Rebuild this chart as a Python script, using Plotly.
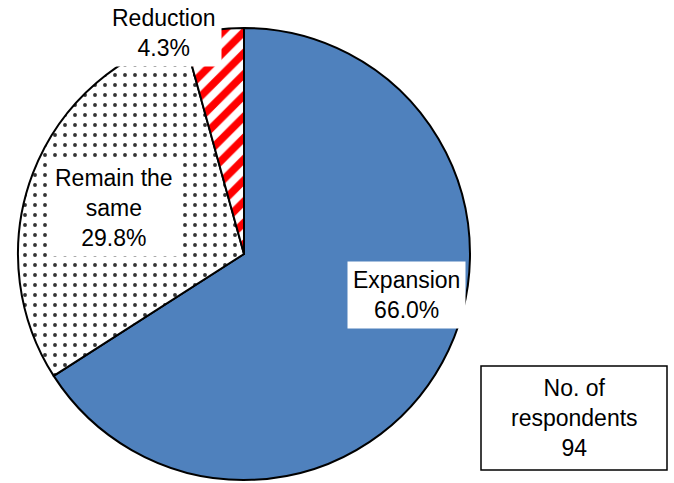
import plotly.graph_objects as go

labels = ["Expansion", "Remain the same", "Reduction"]
values = [66.0, 29.8, 4.3]
label_texts = ["Expansion<br>66.0%", "Remain the<br>same<br>29.8%", "Reduction<br>4.3%"]
respondents_text = "No. of<br>respondents<br>94"

W, H = 674, 483
cx, cy, r = 244, 254, 226

fig = go.Figure()
fig.add_trace(go.Pie(
    labels=labels,
    values=values,
    sort=False,
    direction="clockwise",
    rotation=0,
    textinfo="none",
    hoverinfo="label+percent",
    showlegend=False,
    marker=dict(
        colors=["#4F81BD", "white", "white"],
        line=dict(color="black", width=2),
        pattern=dict(
            shape=["", ".", "/"],
            fgcolor=["#4F81BD", "#333333", "#FF0000"],
            bgcolor=["#4F81BD", "white", "white"],
            fgopacity=1,
            size=[8, 10, 15],
            solidity=[0.3, 0.12, 0.5],
            fillmode="replace",
        ),
    ),
    domain=dict(x=[(cx - r) / W, (cx + r) / W], y=[(H - cy - r) / H, (H - cy + r) / H]),
))

font = dict(family="Arial, 'Liberation Sans', sans-serif", size=23, color="black")

label_pos = [(406, 295), (114, 208), (164, 33)]
for txt, (px, py) in zip(label_texts, label_pos):
    fig.add_annotation(
        text=txt, x=px / W, y=1 - py / H, xref="paper", yref="paper",
        xanchor="center", yanchor="middle", showarrow=False,
        bgcolor="white", borderpad=5, font=font,
    )

fig.add_shape(type="rect", xref="paper", yref="paper",
              x0=481 / W, x1=667 / W, y0=1 - 470 / H, y1=1 - 366 / H,
              line=dict(color="black", width=1.5), fillcolor="white")
fig.add_annotation(
    text=respondents_text, x=574 / W, y=1 - 418 / H, xref="paper", yref="paper",
    xanchor="center", yanchor="middle", showarrow=False, font=font,
)

fig.update_layout(
    width=W, height=H,
    margin=dict(l=0, r=0, t=0, b=0),
    paper_bgcolor="white", plot_bgcolor="white",
)

fig.write_html("out.html")
